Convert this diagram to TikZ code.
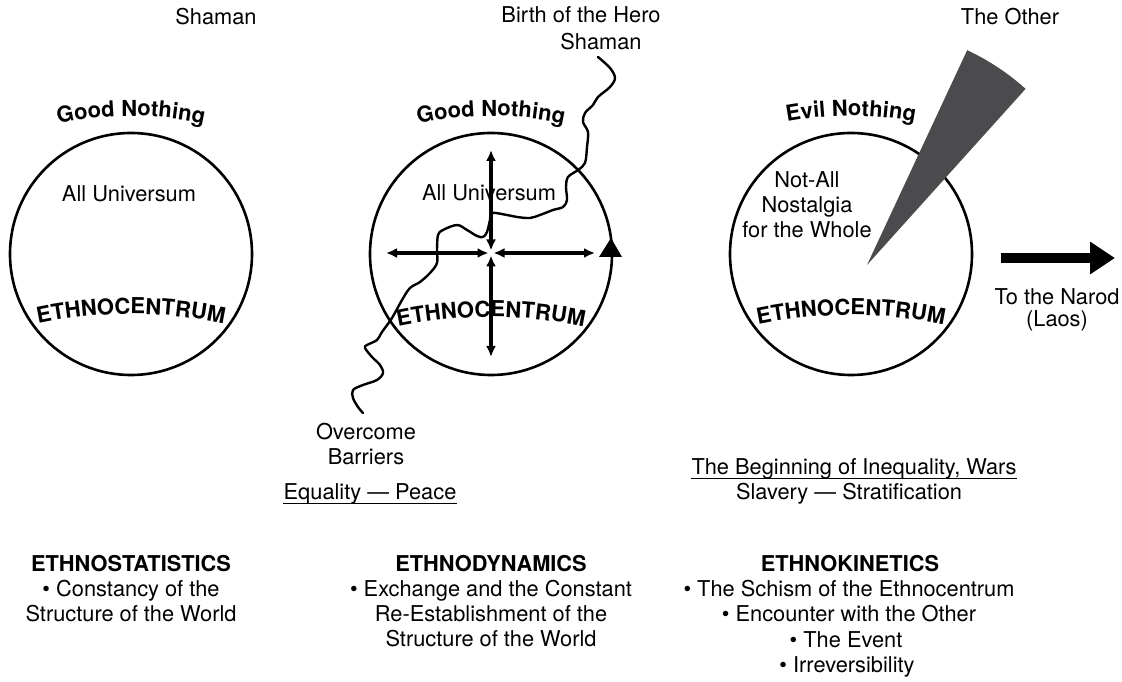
\documentclass[tikz,border=0pt]{standalone}
\usepackage{fontspec}
\setmainfont{TeX Gyre Heros}
\usetikzlibrary{arrows.meta,decorations.text}
\newcommand\hdfont{\fontsize{22}{25}\selectfont\bfseries}
\definecolor{cone}{HTML}{4B4B4D}
\begin{document}
\begin{tikzpicture}[x=1pt,y=1pt,
  txt/.style={font=\fontsize{21.8}{25}\selectfont, inner sep=0pt, anchor=base},
  hd/.style={font=\fontsize{21.8}{25}\selectfont\bfseries, inner sep=0pt, anchor=base},
  ring/.style={draw, line width=2.6pt, circle, minimum size=242pt, inner sep=0pt},
  dbl/.style={line width=3.2pt, {Latex[length=11pt,width=10pt]}-{Latex[length=11pt,width=10pt]}},
  wavy/.style={line width=2.4pt, line join=round, line cap=round},
  uline/.style={line width=1.3pt},
  curved/.style={decorate, decoration={text along path, text align=center, text={#1}}},
]
\useasboundingbox (0,0) rectangle (1122,682);

% circles
\node[ring] (c1) at (131,428) {};
\node[ring] (c2) at (491,428) {};
\node[ring] (c3) at (851,428) {};

% curved labels
\path[curved={|\hdfont|Good Nothing}] ([shift={(131,216)}]108:350pt) arc[start angle=108, end angle=72, radius=350pt];
\path[curved={|\hdfont|Good Nothing}] ([shift={(491,216)}]108:350pt) arc[start angle=108, end angle=72, radius=350pt];
\path[curved={|\hdfont|Evil Nothing}] ([shift={(851,216)}]108:350pt) arc[start angle=108, end angle=72, radius=350pt];
\path[curved={|\hdfont|ETHNOCENTRUM}] ([shift={(131,-82)}]105:450pt) arc[start angle=105, end angle=75, radius=450pt];
\path[curved={|\hdfont|ETHNOCENTRUM}] ([shift={(491,-85)}]105:450pt) arc[start angle=105, end angle=75, radius=450pt];
\path[curved={|\hdfont|ETHNOCENTRUM}] ([shift={(851,-83)}]105:450pt) arc[start angle=105, end angle=75, radius=450pt];

% inner labels
\node[txt] (u1) at (129,480) {All Universum};
\node[txt] (u2) at (489,481) {All Universum};
\node[txt] (na1) at (807,494) {Not-All};
\node[txt] (na2) at (807,469) {Nostalgia};
\node[txt] (na3) at (807,444) {for the Whole};

% top labels
\node[txt] (sh1) at (216,657) {Shaman};
\node[txt] (bh) at (581,659) {Birth of the Hero};
\node[txt] (sh2) at (601,632) {Shaman};
\node[txt] (oth) at (1010,657) {The Other};

% middle cross arrows
\coordinate (x0) at (491,429);
\coordinate (xT) at (491,532);
\coordinate (xB) at (491,325);
\coordinate (xL) at (386,429);
\coordinate (xR) at (595,429);
\draw[dbl] ([yshift=2.5pt]x0) -- (xT);
\draw[dbl] ([yshift=-2.5pt]x0) -- (xB);
\draw[dbl] ([xshift=-2.5pt]x0) -- (xL);
\draw[dbl] ([xshift=2.5pt]x0) -- (xR);
\fill (611,444) -- (622,425) -- (599,425) -- cycle;

% wavy path of the hero
\draw[wavy] plot[smooth, tension=0.55] coordinates {
(598,625) (610,614) (615,604) (610,595) (598,585) (593,577) (585,569) (583,560)
(588,550) (587,535) (585,519) (578,512) (568,505) (566,495) (567,482) (563,475)
(553,472) (540,467) (530,464) (517,465) (507,467) (492,469) (490,462) (487,450)
(483,445) (477,446) (467,452) (457,457) (443,452) (438,447) (437,432) (437,419)
(430,409) (420,400) (410,394) (402,382) (392,364) (382,350) (377,342) (367,337)
(365,334) (372,325) (380,317) (383,309) (377,302) (363,297) (353,292) (353,284)
(358,275) (363,269)};

% cone of the Other
\coordinate (apex) at (867,417);
\fill[cone] (apex) -- ++(65:237pt) arc[start angle=65, end angle=48, radius=237pt] -- cycle;

% arrow to the Narod
\coordinate (n0) at (1001,424);
\coordinate (n1) at (1115,424);
\draw[line width=10pt, -{Triangle[length=25pt,width=31pt]}] (n0) -- (n1);
\node[txt] (nar1) at (1057,377) {To the Narod};
\node[txt] (nar2) at (1057,355) {(Laos)};

% lower labels
\node[txt] (ov1) at (366,242) {Overcome};
\node[txt] (ov2) at (366,217) {Barriers};
\node[txt] (eq) at (370,182) {Equality — Peace};
\draw[uline] ([yshift=-3.5pt]eq.base west) -- ([yshift=-3.5pt]eq.base east);
\node[txt] (ineq) at (854,207) {The Beginning of Inequality, Wars};
\draw[uline] ([yshift=-3.5pt]ineq.base west) -- ([yshift=-3.5pt]ineq.base east);
\node[txt] (sl) at (849,182) {Slavery — Stratification};

% bottom columns
\node[hd] (h1) at (131,110) {ETHNOSTATISTICS};
\node[txt] (h1a) at (131,85) {\textbullet\ Constancy of the};
\node[txt] (h1b) at (131,60) {Structure of the World};

\node[hd] (h2) at (491,110) {ETHNODYNAMICS};
\node[txt] (h2a) at (491,85) {\textbullet\ Exchange and the Constant};
\node[txt] (h2b) at (491,60) {Re-Establishment of the};
\node[txt] (h2c) at (491,35) {Structure of the World};

\node[hd] (h3) at (850,110) {ETHNOKINETICS};
\node[txt] (h3a) at (849,85) {\textbullet\ The Schism of the Ethnocentrum};
\node[txt] (h3b) at (849,60) {\textbullet\ Encounter with the Other};
\node[txt] (h3c) at (846,34) {\textbullet\ The Event};
\node[txt] (h3d) at (847,9) {\textbullet\ Irreversibility};
\end{tikzpicture}
\end{document}
